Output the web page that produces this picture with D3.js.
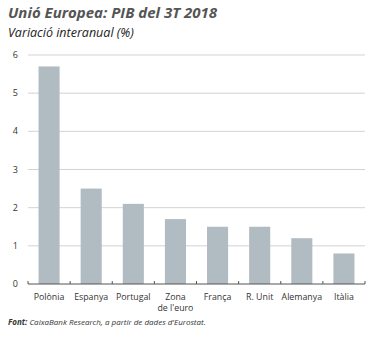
<!DOCTYPE html>
<html>
<head>
<meta charset="utf-8">
<script src="https://cdn.jsdelivr.net/npm/d3@7"></script>
<style>
  body { margin: 0; background: #fff; }
  svg { display: block; font-family: "Open Sans", sans-serif; }
</style>
</head>
<body>
<svg id="chart" width="375" height="338"></svg>
<script>
const categories = ["Polònia", "Espanya", "Portugal", "Zona|de l'euro", "França", "R. Unit", "Alemanya", "Itàlia"];
const values = [5.7, 2.5, 2.1, 1.7, 1.5, 1.5, 1.2, 0.8];
const yTicks = [0, 1, 2, 3, 4, 5, 6];

const svg = d3.select("#chart");
const plotLeft = 28, plotRight = 365, plotTop = 55, plotBottom = 284;

const x = d3.scaleBand()
    .domain(categories)
    .range([plotLeft, plotRight])
    .paddingInner(0.5)
    .paddingOuter(0.25);

const y = d3.scaleLinear()
    .domain([0, 6])
    .range([plotBottom, plotTop]);

// title
svg.append("text")
    .attr("x", 8).attr("y", 18)
    .attr("font-size", 15).attr("font-weight", "bold").attr("font-style", "italic")
    .attr("fill", "#555")
    .text("Unió Europea: PIB del 3T 2018");

svg.append("text")
    .attr("x", 8).attr("y", 37)
    .attr("font-size", 12.5).attr("font-style", "italic")
    .attr("fill", "#222")
    .text("Variació interanual (%)");

// gridlines
svg.append("g")
    .selectAll("line")
    .data(yTicks.filter(d => d > 0))
    .enter()
    .append("line")
    .attr("x1", plotLeft).attr("x2", plotRight)
    .attr("y1", d => y(d)).attr("y2", d => y(d))
    .attr("stroke", "#c8c8c8").attr("stroke-width", 0.8);

// y labels
svg.append("g")
    .selectAll("text")
    .data(yTicks)
    .enter()
    .append("text")
    .attr("x", 18).attr("y", d => y(d) + 3)
    .attr("text-anchor", "end")
    .attr("font-size", 9)
    .attr("fill", "#333")
    .text(d => d);

// bars
svg.append("g")
    .selectAll("rect")
    .data(values)
    .enter()
    .append("rect")
    .attr("x", (d, i) => x(categories[i]))
    .attr("width", x.bandwidth())
    .attr("y", d => y(d))
    .attr("height", d => y(0) - y(d))
    .attr("fill", "#b1bbc2");

// x axis line and ticks at band boundaries
const boundaries = d3.range(categories.length + 1).map(i => plotLeft + i * (plotRight - plotLeft) / categories.length);
svg.append("line")
    .attr("x1", plotLeft).attr("x2", plotRight)
    .attr("y1", plotBottom).attr("y2", plotBottom)
    .attr("stroke", "#555").attr("stroke-width", 1);
svg.append("g")
    .selectAll("line")
    .data(boundaries)
    .enter()
    .append("line")
    .attr("x1", d => d).attr("x2", d => d)
    .attr("y1", plotBottom - 3).attr("y2", plotBottom)
    .attr("stroke", "#555").attr("stroke-width", 1);

// category labels
svg.append("g")
    .selectAll("text")
    .data(categories)
    .enter()
    .append("text")
    .attr("text-anchor", "middle")
    .attr("font-size", 8.8)
    .attr("fill", "#333")
    .each(function(d) {
        const cx = x(d) + x.bandwidth() / 2;
        d.split("|").forEach((line, k) => {
            d3.select(this).append("tspan")
                .attr("x", cx)
                .attr("y", 300 + k * 11)
                .text(line);
        });
    });

// source
const src = svg.append("text")
    .attr("x", 8).attr("y", 325)
    .attr("font-size", 8).attr("font-style", "italic")
    .attr("fill", "#333");
src.append("tspan").attr("font-weight", "bold").text("Font: ");
src.append("tspan").text("CaixaBank Research, a partir de dades d'Eurostat.");
</script>
</body>
</html>
